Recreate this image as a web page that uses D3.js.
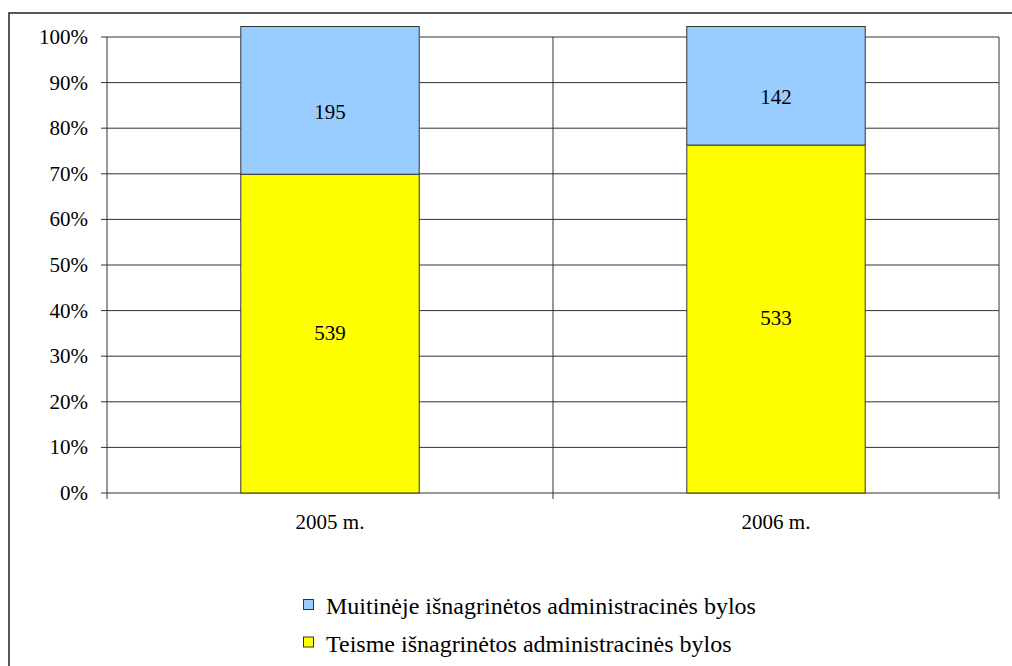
<!DOCTYPE html>
<html>
<head>
<meta charset="utf-8">
<script src="https://cdn.jsdelivr.net/npm/d3@7"></script>
<style>
  body { margin: 0; background: #fff; }
</style>
</head>
<body>
<svg id="chart" width="1012" height="666"></svg>
<script>
const years = ["2005 m.", "2006 m."];
// case counts shown as labels
const courtCases = [539, 533];
const customsCases = [195, 142];
// segment heights as drawn in the picture (% of axis)
const courtShare = [69.9, 76.3];
const customsShare = [32.4, 26.0];
const yTicks = [0, 10, 20, 30, 40, 50, 60, 70, 80, 90, 100];
const seriesNames = ["Muitinėje išnagrinėtos administracinės bylos", "Teisme išnagrinėtos administracinės bylos"];
const seriesColors = ["#99ccff", "#ffff00"];

const svg = d3.select("#chart")
  .attr("font-family", "'Liberation Serif', 'Times New Roman', 'DejaVu Serif', serif")
  .attr("font-size", 21);
const margin = { left: 107, right: 999, top: 37, bottom: 493 };

// outer frame
svg.append("rect")
  .attr("x", 9).attr("y", 13)
  .attr("width", 1020).attr("height", 700)
  .attr("fill", "none").attr("stroke", "#222").attr("stroke-width", 1.5);

const x = d3.scaleBand().domain(years).range([margin.left, margin.right]);
const y = d3.scaleLinear().domain([0, 100]).range([margin.bottom, margin.top]);

// horizontal gridlines with ticks
svg.append("g").selectAll("line")
  .data(yTicks)
  .enter().append("line")
  .attr("x1", margin.left - 6).attr("x2", margin.right)
  .attr("y1", d => y(d)).attr("y2", d => y(d))
  .attr("stroke", "#333").attr("stroke-width", 1);

// vertical category separators
const seps = [margin.left].concat(years.map(d => x(d) + x.bandwidth()));
svg.append("g").selectAll("line")
  .data(seps)
  .enter().append("line")
  .attr("x1", d => d).attr("x2", d => d)
  .attr("y1", margin.top).attr("y2", margin.bottom + 6)
  .attr("stroke", "#333").attr("stroke-width", 1);

// tick labels
svg.append("g").selectAll("text")
  .data(yTicks)
  .enter().append("text")
  .attr("x", 88).attr("y", d => y(d))
  .attr("dy", "0.33em")
  .attr("text-anchor", "end")
  .text(d => d + "%");

const barW = x.bandwidth() * 0.4;
const bars = years.map((yr, i) => ({
  year: yr,
  x: x(yr) + (x.bandwidth() - barW) / 2,
  court: courtShare[i],
  customs: customsShare[i],
  courtN: courtCases[i],
  customsN: customsCases[i]
}));

const g = svg.append("g");
bars.forEach(b => {
  g.append("rect")
    .attr("x", b.x).attr("width", barW)
    .attr("y", y(b.court)).attr("height", y(0) - y(b.court))
    .attr("fill", seriesColors[1]).attr("stroke", "#333").attr("stroke-width", 1);
  g.append("rect")
    .attr("x", b.x).attr("width", barW)
    .attr("y", y(b.court + b.customs)).attr("height", y(b.court) - y(b.court + b.customs))
    .attr("fill", seriesColors[0]).attr("stroke", "#333").attr("stroke-width", 1);

  g.append("text")
    .attr("x", b.x + barW / 2)
    .attr("y", (y(0) + y(b.court)) / 2)
    .attr("dy", "0.3em")
    .attr("text-anchor", "middle")
    .text(b.courtN);
  g.append("text")
    .attr("x", b.x + barW / 2)
    .attr("y", (y(b.court) + y(b.court + b.customs)) / 2 + 12)
    .attr("dy", "0.3em")
    .attr("text-anchor", "middle")
    .text(b.customsN);
});

// category labels
svg.append("g").selectAll("text")
  .data(years)
  .enter().append("text")
  .attr("x", d => x(d) + x.bandwidth() / 2)
  .attr("y", 529)
  .attr("text-anchor", "middle")
  .text(d => d);

// legend
const legend = svg.append("g").attr("font-size", 24);
seriesNames.forEach((name, i) => {
  const ly = 599 + i * 37.5;
  legend.append("rect")
    .attr("x", 303.5).attr("y", ly + 0.5)
    .attr("width", 10).attr("height", 10)
    .attr("fill", seriesColors[i]).attr("stroke", "#333").attr("stroke-width", 1);
  legend.append("text")
    .attr("x", 326).attr("y", ly + 15)
    .text(name);
});
</script>
</body>
</html>
